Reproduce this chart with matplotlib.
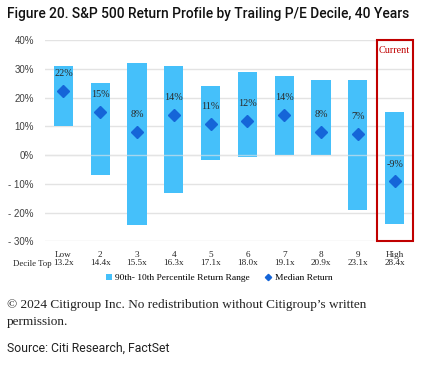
import matplotlib
matplotlib.use("Agg")
import matplotlib.pyplot as plt
from matplotlib.patches import Rectangle, Patch
from matplotlib.lines import Line2D

deciles = ["Low", "2", "3", "4", "5", "6", "7", "8", "9", "High"]
decile_top = ["13.2x", "14.4x", "15.5x", "16.3x", "17.1x", "18.0x", "19.1x", "20.9x", "23.1x", "28.4x"]
p90 = [31.0, 25.2, 32.0, 30.8, 24.1, 28.8, 27.4, 26.0, 26.2, 15.1]
p10 = [10.0, -6.9, -24.3, -13.2, -1.6, -0.8, 0.0, 0.0, -19.0, -24.0]
median = [22.3, 15.0, 8.0, 14.0, 10.8, 12.0, 14.0, 8.0, 7.2, -9.2]
median_labels = ["22%", "15%", "8%", "14%", "11%", "12%", "14%", "8%", "7%", "-9%"]
yticks = [-30, -20, -10, 0, 10, 20, 30, 40]

serif = ["Liberation Serif", "DejaVu Serif"]
sans = ["Liberation Sans", "DejaVu Sans"]
cond = ["Roboto", "DejaVu Sans"]

W, H = 429, 366
fig = plt.figure(figsize=(W / 100, H / 100), dpi=100)
ax = fig.add_axes([45 / W, 1 - 241.3 / H, (413 - 45) / W, (241.3 - 40) / H])

bar_color = "#45c0fa"
mk_color = "#1565d8"
x = list(range(len(deciles)))
heights = [a - b for a, b in zip(p90, p10)]
ax.bar(x, heights, bottom=p10, width=0.52, color=bar_color, zorder=2)
ax.plot(x, median, linestyle="none", marker="D", markersize=6, color=mk_color, zorder=4)
for i, (m, lab) in enumerate(zip(median, median_labels)):
    ax.annotate(lab, (i, m), xytext=(0, 12.5), textcoords="offset points",
                ha="center", va="center", fontsize=7.3, family=serif, color="#2a2a2a", zorder=5)

ax.set_xlim(-0.5, 9.5)
ax.set_ylim(-30, 40)
ax.set_yticks(yticks)
ax.set_yticklabels([f"{v}%" if v >= 0 else f"- {abs(v)}%" for v in yticks],
                   fontsize=7, family=sans, color="#404040")
ax.set_xticks(x)
ax.set_xticklabels([f"{d}\n{t}" for d, t in zip(deciles, decile_top)],
                   fontsize=6.6, family=serif, color="#222222", linespacing=0.95)
ax.tick_params(axis="both", length=0)
ax.tick_params(axis="y", pad=8)
ax.tick_params(axis="x", pad=7)
for s in ax.spines.values():
    s.set_visible(False)
ax.yaxis.grid(True, color="#e3e3e3", linewidth=1.0, zorder=0)
ax.set_axisbelow(True)
ax.axhline(0, color="#e6e6e6", linewidth=1.0, alpha=0.6, zorder=3)

ax.add_patch(Rectangle((8.51, -30), 1.0, 70, fill=False, edgecolor="#c00000",
                       linewidth=1.5, clip_on=False, zorder=6))
ax.text(9.0, 36.2, "Current", ha="center", va="center", fontsize=7.3,
        family=serif, color="#c00000")

fig.text(13 / W, 1 - 264 / H, "Decile Top", ha="left", va="center",
         fontsize=6.3, family=serif, color="#222222")

handles = [Patch(facecolor=bar_color, edgecolor="none"),
           Line2D([], [], linestyle="none", marker="D", markersize=3.2, color=mk_color)]
fig.legend(handles, ["90th- 10th Percentile Return Range", "Median Return"],
           loc="center", bbox_to_anchor=(219 / W, 1 - 278 / H), ncol=2, frameon=False,
           prop={"family": "Liberation Serif", "size": 6.8}, handlelength=0.7,
           handleheight=0.7, handletextpad=0.3, columnspacing=1.6)

fig.text(7 / W, 1 - 14 / H, "Figure 20. S&P 500 Return Profile by Trailing P/E Decile, 40 Years",
         ha="left", va="center", fontsize=9.9, family=cond, weight="medium", color="#111111")
fig.text(7 / W, 1 - 305 / H, "© 2024 Citigroup Inc. No redistribution without Citigroup’s written",
         ha="left", va="center", fontsize=9.5, family=serif, color="#222222")
fig.text(7 / W, 1 - 322.5 / H, "permission.", ha="left", va="center", fontsize=9.5,
         family=serif, color="#222222")
fig.text(7 / W, 1 - 348 / H, "Source: Citi Research, FactSet", ha="left", va="center",
         fontsize=8.8, family=cond, color="#222222")

fig.savefig("out.png", dpi=100)
